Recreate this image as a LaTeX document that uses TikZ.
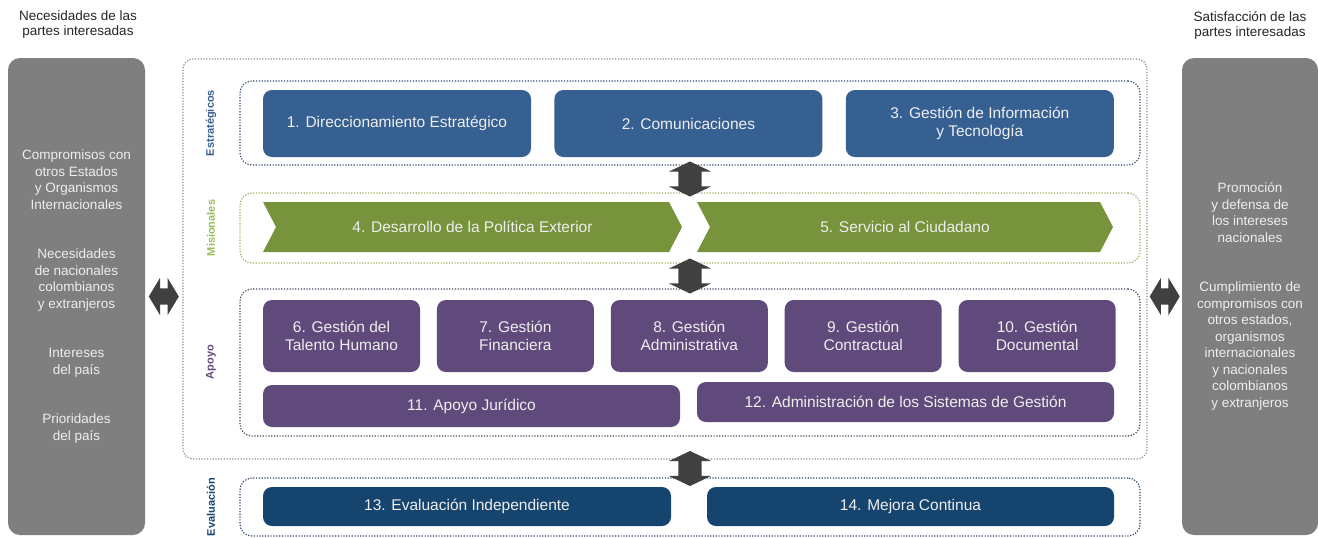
\documentclass[tikz,border=0pt]{standalone}
\usepackage{fontspec}
\setmainfont{Liberation Sans}
\usetikzlibrary{arrows.meta, positioning, shapes.symbols, shapes.arrows, calc}

\definecolor{estblue}{HTML}{376092}
\definecolor{misgreen}{HTML}{77933C}
\definecolor{apopurple}{HTML}{604A7B}
\definecolor{evanavy}{HTML}{15446E}
\definecolor{sidegray}{HTML}{7F7F7F}
\definecolor{arrowgray}{HTML}{404040}
\definecolor{boxtext}{HTML}{EEEEEE}
\definecolor{misline}{HTML}{A5A862}
\definecolor{estline}{HTML}{2C4770}
\definecolor{apoline}{HTML}{44445E}
\definecolor{misfont}{HTML}{9BBB59}

\begin{document}
\begin{tikzpicture}[
    x=1pt, y=-1pt,
    node distance=23pt,
    box/.style={rectangle, rounded corners=9pt, text=boxtext, inner sep=2pt, align=center, font=\fontsize{15.5}{18.5}\selectfont},
    estbox/.style={box, fill=estblue, minimum width=268pt, minimum height=67pt},
    apobox/.style={box, fill=apopurple, minimum width=157pt, minimum height=72pt},
    evabox/.style={box, fill=evanavy, minimum height=39pt},
    chev/.style={signal, signal from=west, signal to=east, signal pointer angle=125, fill=misgreen, text=boxtext, inner sep=2pt, minimum height=50pt, font=\fontsize{15.5}{18.5}\selectfont},
    grp/.style={rectangle, rounded corners=12pt, line width=1.2pt, dash pattern=on 1.2pt off 1.6pt, minimum width=900pt},
    side/.style={rectangle, rounded corners=12pt, fill=sidegray, text=boxtext, minimum height=477pt, align=center, font=\fontsize{13.5}{16.5}\selectfont},
    head/.style={align=center, text=black!85, font=\fontsize{13.5}{15}\selectfont},
    lbl/.style={rotate=90, font=\fontsize{11}{13}\selectfont\bfseries},
    dblv/.style={double arrow, shape border rotate=90, fill=arrowgray, inner sep=11.5pt, minimum height=35pt, double arrow head extend=9.5pt, double arrow tip angle=129},
    dblh/.style={double arrow, fill=arrowgray, inner sep=8pt, minimum height=30pt, double arrow head extend=10.5pt, double arrow tip angle=118}
  ]
    \fill[white] (0,0) rectangle (1318,538);
    \useasboundingbox (0,0) rectangle (1318,538);

    \node[head] (hleft) at (78,25) {Necesidades de las\\partes interesadas};
    \node[head] (hright) at (1250,25) {Satisfacción de las\\partes interesadas};

    \node[side, minimum width=137pt] (sidel) at (76.5,296.5) {Compromisos con\\otros Estados\\y Organismos\\Internacionales\\[33pt]Necesidades\\de nacionales\\colombianos\\y extranjeros\\[33pt]Intereses\\del país\\[33pt]Prioridades\\del país};
    \node[side, minimum width=136pt] (sider) at (1250,296.5) {Promoción\\y defensa de\\los intereses\\nacionales\\[33pt]Cumplimiento de\\compromisos con\\otros estados,\\organismos\\internacionales\\y nacionales\\colombianos\\y extranjeros};

    \node[rectangle, rounded corners=10pt, draw=black!45, line width=1.2pt, dash pattern=on 1.2pt off 1.6pt, minimum width=964pt, minimum height=400pt] (core) at (665,259) {};

    \node[grp, draw=estline, minimum height=84pt] (estr) at (690,123) {};
    \node[grp, draw=misline, minimum height=70pt] (mis) at (690,228) {};
    \node[grp, draw=apoline, minimum height=147pt] (apo) at (690,362.5) {};
    \node[grp, draw=estline, minimum height=58pt] (eva) at (690,507) {};

    \node[lbl, text=estblue] (lestr) at (211,123) {Estratégicos};
    \node[lbl, text=misfont] (lmis) at (211,228) {Misionales};
    \node[lbl, text=apopurple] (lapo) at (211,362) {Apoyo};
    \node[lbl, text=evanavy] (leva) at (211,507) {Evaluación};

    \node[estbox] (b1) at (397,123.5) {1. Direccionamiento Estratégico};
    \node[estbox, right=of b1] (b2) {2. Comunicaciones};
    \node[estbox, right=of b2] (b3) {3. Gestión de Información\\y Tecnología};

    \node[chev, minimum width=419pt] (p4) at (472.5,227) {4. Desarrollo de la Política Exterior};
    \node[chev, minimum width=416pt] (p5) at (905,227) {5. Servicio al Ciudadano};

    \node[apobox] (b6) at (341.5,336) {6. Gestión del\\Talento Humano};
    \node[apobox, right=16.5pt of b6] (b7) {7. Gestión\\Financiera};
    \node[apobox, right=16.5pt of b7] (b8) {8. Gestión\\Administrativa};
    \node[apobox, right=16.5pt of b8] (b9) {9. Gestión\\Contractual};
    \node[apobox, right=16.5pt of b9] (b10) {10. Gestión\\Documental};
    \node[box, fill=apopurple, minimum width=417pt, minimum height=42pt] (b11) at (471.5,406) {11. Apoyo Jurídico};
    \node[box, fill=apopurple, minimum width=417pt, minimum height=40pt] (b12) at (905.5,402) {12. Administración de los Sistemas de Gestión};

    \node[evabox, minimum width=408pt] (b13) at (467,506.5) {13. Evaluación Independiente};
    \node[evabox, minimum width=407pt] (b14) at (910.5,506.5) {14. Mejora Continua};

    \node[dblv] (ar1) at ($(estr.south)!.5!(mis.north)$) {};
    \node[dblv] (ar2) at ($(mis.south)!.5!(apo.north)$) {};
    \node[dblv] (ar3) at ($(core.south -| eva.north)!.5!(eva.north)$) {};
    \node[dblh] (arl) at ($(sidel.east)!.5!(sidel.east -| core.west)$) {};
    \node[dblh] (arr) at ($(core.east |- sider.west)!.5!(sider.west)$) {};
  \end{tikzpicture}
\end{document}
